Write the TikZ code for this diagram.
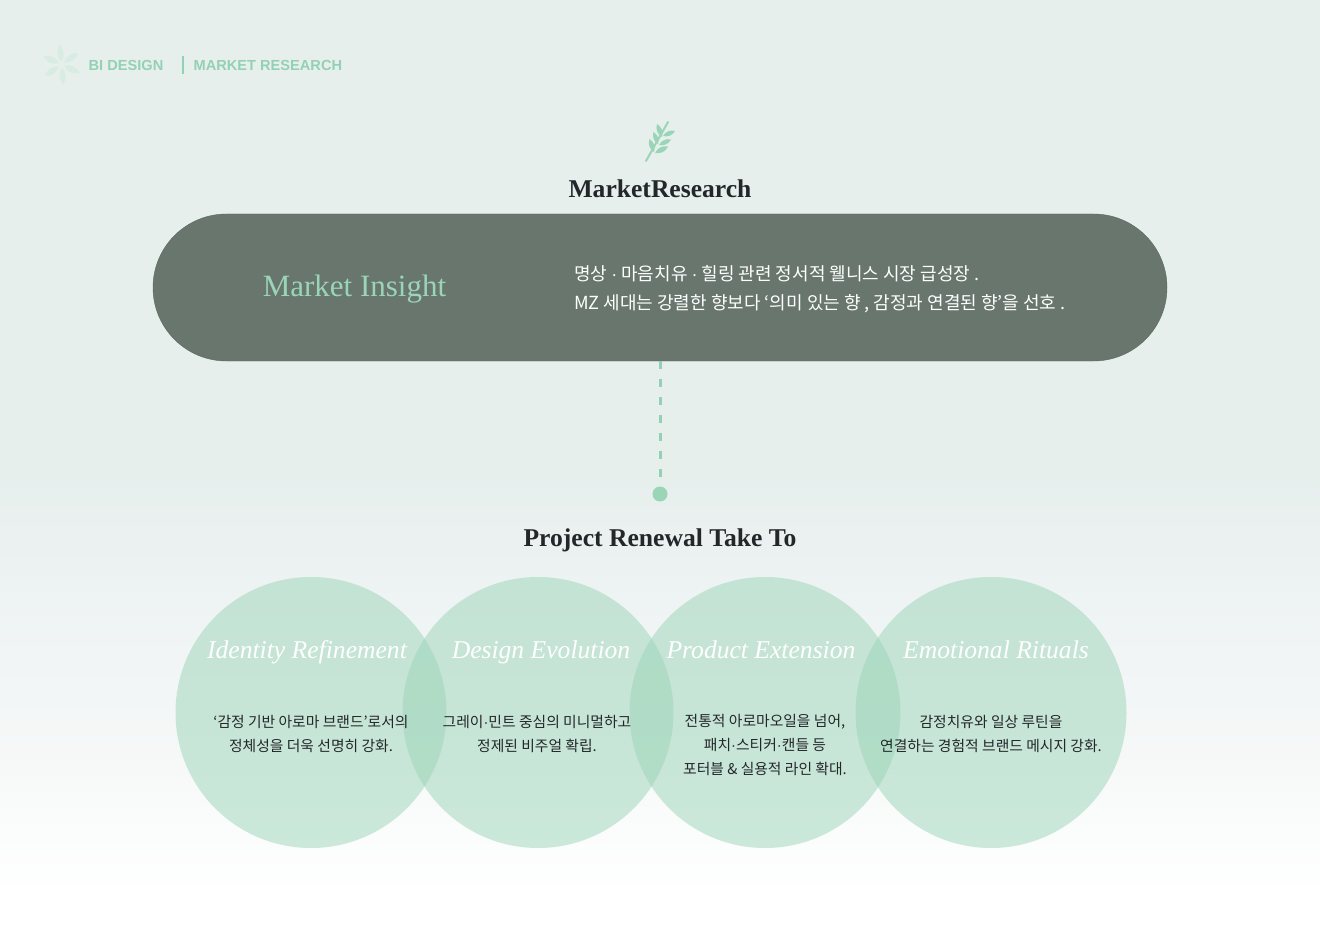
\documentclass[tikz,border=0pt]{standalone}
\usepackage{fontspec}
\usetikzlibrary{calc}
\setmainfont{Liberation Serif}
\newfontfamily\krfont{Noto Sans CJK KR}
\newfontfamily\headfont{Liberation Sans}
\newcommand{\middot}{{\headfont ·}}
\definecolor{mint}{HTML}{93D1B4}
\definecolor{mintpale}{HTML}{D8ECE3}
\definecolor{sprigleaf}{HTML}{9BD5B8}
\definecolor{pillgreen}{HTML}{68766E}
\definecolor{pilledge}{HTML}{5A6860}
\definecolor{inkdark}{HTML}{23272A}
\definecolor{bgtop}{HTML}{E7EFED}
\definecolor{bgmid}{HTML}{EEF3F3}
\definecolor{bglow}{HTML}{F6F8F8}
\pgfdeclareverticalshading{pagefade}{100bp}{color(0bp)=(white);color(27bp)=(white);color(34.8bp)=(bglow);color(42.8bp)=(bgmid);color(49.3bp)=(bgtop);color(100bp)=(bgtop)}
\tikzset{
	petal/.style = {fill=mintpale},
	sprig/.style = {fill=sprigleaf},
	header/.style = {font=\headfont\bfseries\fontsize{14.6}{16}\selectfont, text=mint, anchor=base west, inner sep=0pt},
	heading/.style = {font=\bfseries\fontsize{25.6}{27}\selectfont, text=inkdark, anchor=base, inner sep=0pt},
	bubble/.style = {circle, fill=sprigleaf, fill opacity=0.5, minimum size=271pt, inner sep=0pt},
	bubbletitle/.style = {font=\itshape\fontsize{25.6}{28}\selectfont, text=white, anchor=base, inner sep=0pt},
	bubbletext/.style = {font=\krfont\fontsize{14.8}{24}\selectfont, text=inkdark, align=center, inner sep=0pt}
}

\begin{document}
\begin{tikzpicture}[x=1pt, y=-1pt]
\shade[shading=pagefade] (0,0) rectangle (1320,933);
\useasboundingbox (0,0) rectangle (1320,933);

\coordinate (flower) at (61.5,64.5);
\foreach \a in {85,25,-35,-95,-155,145}{
	\fill[petal] ($(flower)+(\a:3)$) to[bend left=40] ($(flower)+(\a:20)$) to[bend left=40] ($(flower)+(\a:3)$);
}
\node[header] (bi) at (88.5,71) {BI DESIGN};
\coordinate (bartop) at (183,56);
\coordinate (barend) at (183,74);
\draw[mint, line width=1.2pt] (bartop) -- (barend);
\node[header] (research) at (193.5,71) {MARKET RESEARCH};

\coordinate (stemlow) at (646,161);
\coordinate (stemtop) at (668,122);
\draw[sprigleaf, line width=2pt, line cap=round] (stemlow) -- (stemtop);
\foreach \bx/\by/\tx/\ty in {662/137/657/124, 658/144/653.5/132, 654/152/649.5/139, 663/136/675/131, 659/145/671/139.5, 655/153/668/146.5}{
	\fill[sprig] (\bx,\by) to[bend left=38] (\tx,\ty) to[bend left=38] (\bx,\by);
}

\node[heading] (title) at (660,197.5) {MarketResearch};

\node[rectangle, draw=pilledge, line width=0.4pt, fill=pillgreen, rounded corners=73.5pt, minimum width=1014pt, minimum height=147pt, inner sep=0pt] (pill) at (660,287.5) {};
\node[font=\fontsize{31}{31}\selectfont, text=sprigleaf, anchor=base, inner sep=0pt] (insight) at (354.5,297) {Market Insight};
\node[font=\krfont\fontsize{18}{29}\selectfont, text=white, align=left, anchor=west, inner sep=0pt] (insighttext) at (574,289.5) {명상 \middot{} 마음치유 \middot{} 힐링 관련 정서적 웰니스 시장 급성장 .\\MZ 세대는 강렬한 향보다 ‘의미 있는 향 , 감정과 연결된 향’을 선호 .};

\node[circle, fill=sprigleaf, minimum size=15pt, inner sep=0pt] (dot) at (660,494) {};
\draw[mint, line width=3pt, dash pattern=on 8pt off 10pt] (pill.south) -- (dot.north);

\node[heading] (renewal) at (660,546) {Project Renewal Take To};

\foreach \i/\x in {1/311, 2/538, 3/765, 4/991}{
	\node[bubble] (circ\i) at (\x,712.5) {};
}

\node[bubbletitle] (name1) at (307,658) {Identity Refinement};
\node[bubbletitle] (name2) at (541,658) {Design Evolution};
\node[bubbletitle] (name3) at (761,658) {Product Extension};
\node[bubbletitle] (name4) at (996,658) {Emotional Rituals};

\node[bubbletext] (text1) at (311,734) {‘감정 기반 아로마 브랜드’로서의\\정체성을 더욱 선명히 강화.};
\node[bubbletext] (text2) at (537,734) {그레이\middot{}민트 중심의 미니멀하고\\정제된 비주얼 확립.};
\node[bubbletext] (text3) at (765,745) {전통적 아로마오일을 넘어,\\패치\middot{}스티커\middot{}캔들 등\\포터블 \& 실용적 라인 확대.};
\node[bubbletext] (text4) at (991,734) {감정치유와 일상 루틴을\\연결하는 경험적 브랜드 메시지 강화.};
\end{tikzpicture}
\end{document}
